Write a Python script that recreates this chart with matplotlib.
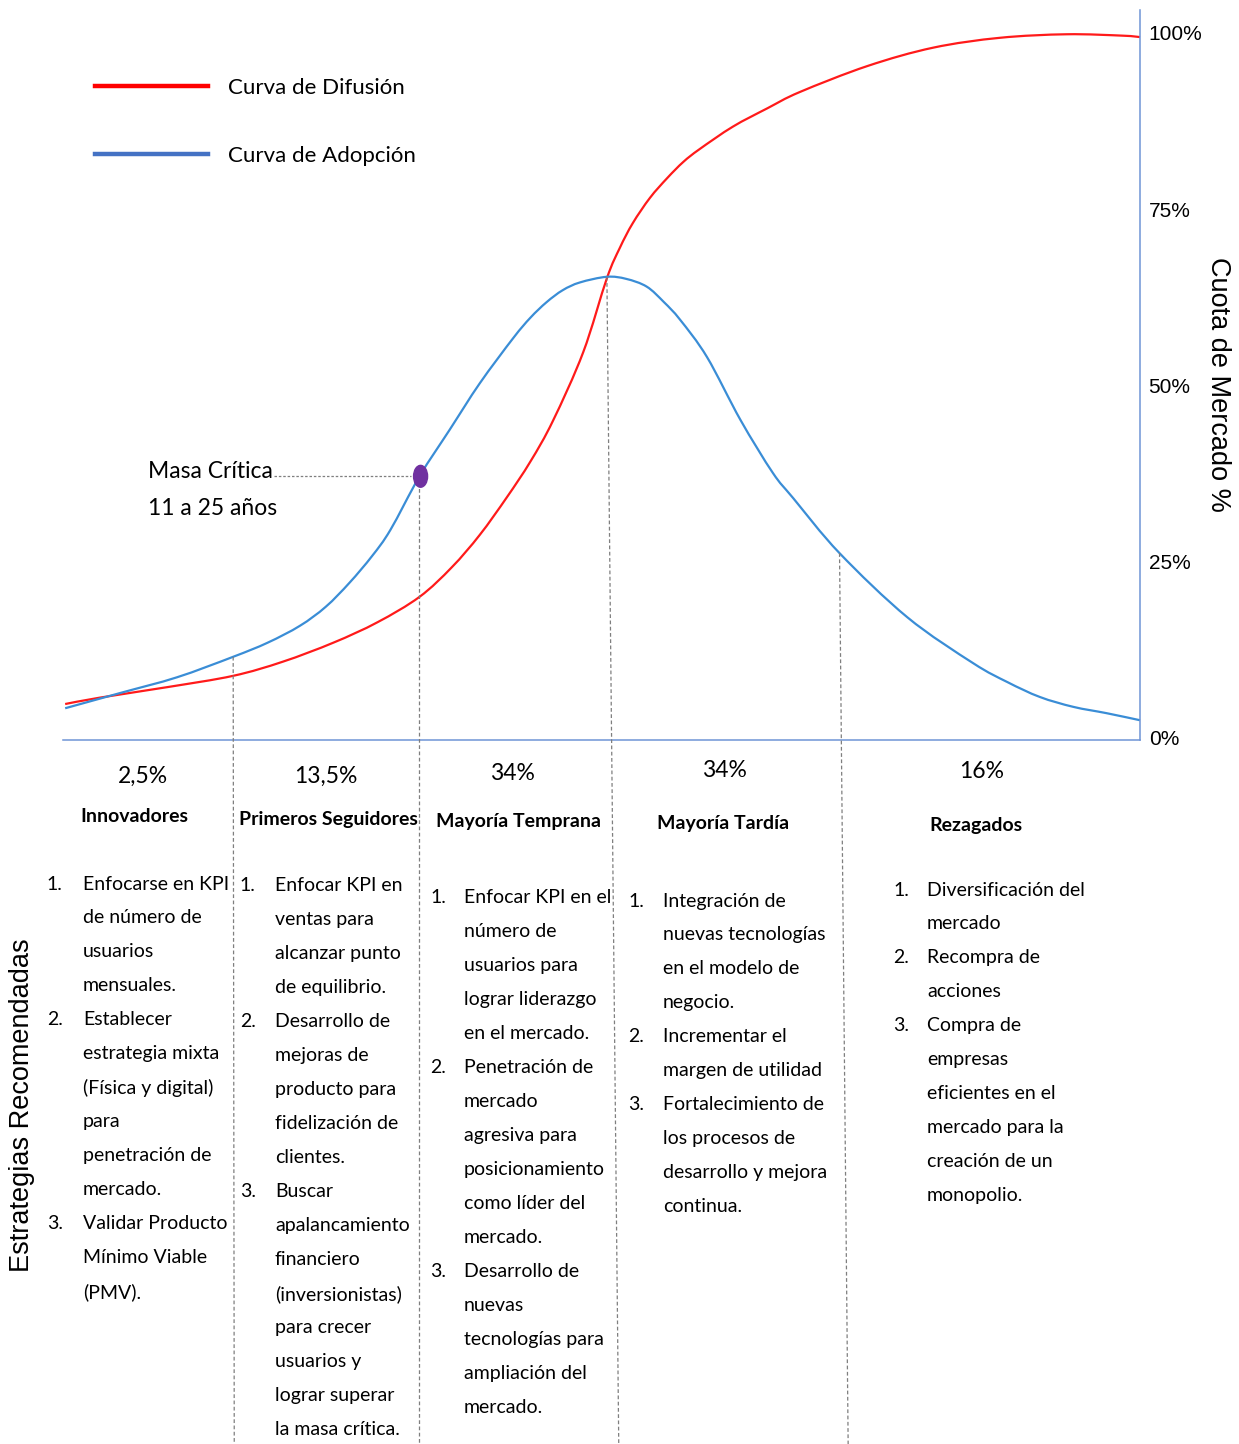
import matplotlib
matplotlib.use("Agg")
import matplotlib.pyplot as plt
from matplotlib.lines import Line2D
from matplotlib.patches import Ellipse, PathPatch
from matplotlib.path import Path
import numpy as np

# Difusión (acumulada) y adopción, en % de cuota de mercado
x_difusion = [0.2, 3.4, 9.7, 15.8, 20.4, 25.1, 29.2, 33.1, 36.1, 38.7, 41.2, 43.4,
              45.5, 48.3, 50.5, 51.7, 52.9, 54.5, 56.1, 57.6, 59.1, 62.2, 65.4,
              68.4, 74.7, 80.8, 87.0, 93.2, 98.4, 100.0]
y_difusion = [5.1, 6.0, 7.5, 9.1, 11.1, 13.8, 16.7, 20.3, 24.5, 29.1, 34.4, 39.5,
              45.3, 55.0, 65.5, 69.8, 73.3, 76.9, 79.7, 82.0, 83.8, 87.0, 89.6,
              91.9, 95.6, 98.2, 99.6, 100.1, 99.9, 99.7]

x_adopcion = [0.2, 5.4, 10.6, 15.8, 19.0, 22.0, 24.4, 26.6, 28.7, 30.4, 33.1, 35.9,
              38.7, 41.8, 43.4, 44.9, 46.4, 48.0, 50.5, 52.3, 54.2, 55.8, 57.3, 59.8,
              62.9, 65.9, 67.8, 72.1, 78.4, 84.5, 87.7, 90.7, 93.8, 96.9, 100.0]
y_adopcion = [4.5, 6.7, 8.9, 11.8, 13.8, 16.2, 18.9, 22.3, 26.1, 29.8, 37.4, 44.0,
              50.6, 57.0, 59.9, 62.1, 63.8, 64.9, 65.7, 65.4, 64.3, 62.1, 59.6, 54.3,
              45.4, 37.9, 34.3, 26.5, 17.4, 10.9, 8.2, 6.1, 4.7, 3.8, 2.8]

# Cortes entre segmentos (sobre la curva de adopción)
cortes = [15.8, 33.1, 50.5, 72.1]
masa_critica_x = 33.1

cuota_ticks = [0, 25, 50, 75, 100]
cuota_labels = ["0%", "25%", "50%", "75%", "100%"]

segmento_pct = ["2,5%", "13,5%", "34%", "34%", "16%"]
segmento_nombre = ["Innovadores", "Primeros Seguidores", "Mayoría Temprana",
                   "Mayoría Tardía", "Rezagados"]

estrategias = [
    [["Enfocarse en KPI", "de número de", "usuarios", "mensuales."],
     ["Establecer", "estrategia mixta", "(Física y digital)", "para",
      "penetración de", "mercado."],
     ["Validar Producto", "Mínimo Viable", "(PMV)."]],
    [["Enfocar KPI en", "ventas para", "alcanzar punto", "de equilibrio."],
     ["Desarrollo de", "mejoras de", "producto para", "fidelización de", "clientes."],
     ["Buscar", "apalancamiento", "financiero", "(inversionistas)", "para crecer",
      "usuarios y", "lograr superar", "la masa crítica."]],
    [["Enfocar KPI en el", "número de", "usuarios para", "lograr liderazgo",
      "en el mercado."],
     ["Penetración de", "mercado", "agresiva para", "posicionamiento",
      "como líder del", "mercado."],
     ["Desarrollo de", "nuevas", "tecnologías para", "ampliación del", "mercado."]],
    [["Integración de", "nuevas tecnologías", "en el modelo de", "negocio."],
     ["Incrementar el", "margen de utilidad"],
     ["Fortalecimiento de", "los procesos de", "desarrollo y mejora", "continua."]],
    [["Diversificación del", "mercado"],
     ["Recompra de", "acciones"],
     ["Compra de", "empresas", "eficientes en el", "mercado para la",
      "creación de un", "monopolio."]],
]

TXT = ["Lato", "DejaVu Sans"]
SANS = ["Liberation Sans", "DejaVu Sans"]
ROJO = "#ff1a1a"
AZUL = "#3a8dd6"
EJE = "#6f94d6"
GUION = "#7f7f7f"


def curva_suave(xs, ys):
    """Path Bezier (Catmull-Rom) que pasa por todos los puntos."""
    p = np.column_stack([xs, ys]).astype(float)
    ext = np.vstack([p[0], p, p[-1]])
    verts = [p[0]]
    codes = [Path.MOVETO]
    for i in range(len(p) - 1):
        p0, p1, p2, p3 = ext[i], ext[i + 1], ext[i + 2], ext[i + 3]
        verts += [p1 + (p2 - p0) / 6, p2 - (p3 - p1) / 6, p2]
        codes += [Path.CURVE4] * 3
    return Path(verts, codes)


fig = plt.figure(figsize=(12.39, 14.44), dpi=100)
ax = fig.add_axes([0, 0, 1, 1])
ax.set_xlim(-5.85, 109.19)
ax.set_ylim(-99.86, 104.96)
ax.axis("off")

# ejes: base y eje vertical derecho
ax.plot([0, 100], [0, 0], color=EJE, lw=1.1)
ax.plot([100, 100], [0, 103.5], color=EJE, lw=1.1)
for t, lab in zip(cuota_ticks, cuota_labels):
    ax.text(100.8, t, lab, fontsize=15, family=SANS, ha="left", va="center")
ax.text(107.2, 50.4, "Cuota de Mercado %", fontsize=19.5, family=SANS,
        rotation=-90, ha="center", va="center")

# curvas
ax.add_patch(PathPatch(curva_suave(x_difusion, y_difusion), fill=False,
                       edgecolor=ROJO, lw=1.6))
ax.add_patch(PathPatch(curva_suave(x_adopcion, y_adopcion), fill=False,
                       edgecolor=AZUL, lw=1.6))

# líneas de corte punteadas hasta el pie de la figura
pie = -99.86
desvio = [0.1, 0.0, 1.1, 0.8]
for c, d in zip(cortes, desvio):
    top = np.interp(c, x_adopcion, y_adopcion)
    ax.plot([c, c + d], [top, pie], color=GUION, lw=0.9, ls=(0, (3, 2)))

# masa crítica
mc_y = np.interp(masa_critica_x, x_adopcion, y_adopcion)
ax.plot([19.6, masa_critica_x - 0.8], [mc_y, mc_y], color=GUION, lw=0.9, ls=(0, (2, 1.5)))
ax.add_patch(Ellipse((masa_critica_x + 0.1, mc_y), 1.3, 3.1, color="#7030a0", zorder=5))
ax.text(7.9, mc_y + 0.7, "Masa Crítica", fontsize=16.5, family=TXT, ha="left", va="center")
ax.text(7.9, mc_y - 4.5, "11 a 25 años", fontsize=16.5, family=TXT, ha="left", va="center")

# leyenda
handles = [Line2D([], [], color="#ff0000", lw=3.2),
           Line2D([], [], color="#4472c4", lw=3.2)]
ax.legend(handles, ["Curva de Difusión", "Curva de Adopción"], loc="upper left",
          bbox_to_anchor=(2.97, 93.9), bbox_transform=ax.transData, frameon=False,
          prop={"family": TXT, "size": 16}, handlelength=5.1, handletextpad=0.9,
          labelspacing=2.15, borderpad=0, borderaxespad=0)

# segmentos
pct_x = [7.4, 24.4, 41.7, 61.4, 85.3]
pct_y = [-5.1, -5.1, -4.7, -4.3, -4.5]
nom_x = [6.6, 24.6, 42.3, 61.3, 84.8]
nom_y = [-10.9, -11.3, -11.6, -11.9, -12.1]
for i in range(5):
    ax.text(pct_x[i], pct_y[i], segmento_pct[i], fontsize=16.5, family=TXT,
            ha="center", va="center")
    ax.text(nom_x[i], nom_y[i], segmento_nombre[i], fontsize=14, family=TXT,
            weight="bold", ha="center", va="center")

# estrategias recomendadas por segmento
num_x = [-1.49, 16.43, 34.08, 52.46, 77.07]
txt_x = [1.86, 19.68, 37.23, 55.71, 80.22]
fila0 = [-20.43, -20.71, -22.41, -22.84, -21.28]
paso = 4.82
for col, items in enumerate(estrategias):
    fila = 0
    for n, lineas in enumerate(items, start=1):
        ax.text(num_x[col], fila0[col] - fila * paso, f"{n}.", fontsize=14,
                family=TXT, ha="left", va="center")
        for linea in lineas:
            ax.text(txt_x[col], fila0[col] - fila * paso, linea, fontsize=14,
                    family=TXT, ha="left", va="center")
            fila += 1

ax.text(-3.81, -51.8, "Estrategias Recomendadas", fontsize=19.5, family=SANS,
        rotation=90, ha="center", va="center")

fig.savefig("out.png", dpi=100, facecolor="white")
